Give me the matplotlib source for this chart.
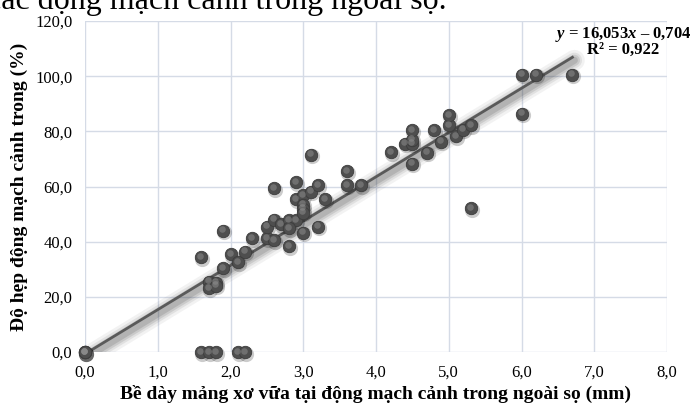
import numpy as np
import matplotlib
matplotlib.use("Agg")
import matplotlib.pyplot as plt
import matplotlib.transforms as mtransforms

plt.rcParams['font.family'] = ['Liberation Serif', 'DejaVu Serif']
plt.rcParams['mathtext.fontset'] = 'custom'
plt.rcParams['mathtext.rm'] = 'Liberation Serif:bold'
plt.rcParams['mathtext.it'] = 'Liberation Serif:italic:bold'

# plaque thickness (mm) vs stenosis (%)
thickness = [0, 0, 0, 0,
             1.6, 1.7, 1.8, 2.1, 2.2,
             1.6, 1.7, 1.8, 1.7, 1.8, 1.9, 1.9, 2.0, 2.1, 2.2, 2.3,
             2.5, 2.6, 2.5, 2.6, 2.7, 2.8, 2.9, 2.8, 2.8, 2.6, 2.9, 2.9,
             3.0, 3.1, 3.2, 3.0, 3.0, 3.0, 3.0, 3.2, 3.1, 3.3, 3.6, 3.6, 3.8,
             4.2, 4.4, 4.5, 4.5, 4.5, 4.5, 4.7, 4.8, 4.9, 5.0, 5.0, 5.1, 5.2,
             5.3, 5.3, 6.0, 6.2, 6.7, 6.0]
stenosis = [0, 0, 0, 0,
            0, 0, 0, 0, 0,
            34.3, 25.5, 25.1, 23.1, 24.0, 30.3, 44.0, 35.5, 32.5, 36.3, 41.2,
            41.2, 40.6, 45.4, 48.0, 46.4, 47.8, 47.8, 44.8, 38.4, 59.4, 61.5, 55.4,
            56.9, 58.1, 60.4, 53.3, 52.0, 50.4, 43.2, 45.4, 71.5, 55.4, 65.5, 60.4, 60.4,
            72.4, 75.5, 75.5, 77.0, 80.4, 68.2, 72.2, 80.4, 76.2, 82.2, 85.8, 78.3, 80.5,
            82.2, 52.2, 100.5, 100.5, 100.5, 86.3]

slope = 16.053
intercept = -0.704
r2_text = "R² = 0,922"
eq_text = "$y$ = 16,053$x$ – 0,704"

x_ticks = [0, 1, 2, 3, 4, 5, 6, 7, 8]
x_ticklabels = ['0,0', '1,0', '2,0', '3,0', '4,0', '5,0', '6,0', '7,0', '8,0']
y_ticks = [0, 20, 40, 60, 80, 100, 120]
y_ticklabels = ['0,0', '20,0', '40,0', '60,0', '80,0', '100,0', '120,0']

W, H = 692, 408
fig = plt.figure(figsize=(W / 100, H / 100), dpi=100)
ax = fig.add_axes([85 / W, (H - 352) / H, (667 - 85) / W, (352 - 21) / H])
ax.set_xlim(0, 8)
ax.set_ylim(0, 120)

ax.set_xticks(x_ticks)
ax.set_xticklabels(x_ticklabels)
ax.set_yticks(y_ticks)
ax.set_yticklabels(y_ticklabels)
ax.tick_params(length=0, labelsize=12, pad=9)
ax.grid(True, color='#d5dbe6', linewidth=1)
ax.set_axisbelow(True)
for s in ax.spines.values():
    s.set_visible(False)

# trendline with a soft shadow
xs = np.array([min(thickness), max(thickness)])
ys = slope * xs + intercept
for i, lw in enumerate([15, 11, 8, 5]):
    off = mtransforms.ScaledTranslation(2 / 100, -3 / 100, fig.dpi_scale_trans)
    ax.plot(xs, ys, color='#303030', lw=lw, alpha=0.06 + 0.03 * i,
            solid_capstyle='round', transform=ax.transData + off, zorder=2)
ax.plot(xs, ys, color='#5a5a5a', lw=2, zorder=3)

# spheres: shadow, body, highlight
shadow = mtransforms.ScaledTranslation(1 / 100, -1.5 / 100, fig.dpi_scale_trans)
ax.scatter(thickness, stenosis, s=120, color='black', alpha=0.2, lw=0,
           transform=ax.transData + shadow, zorder=4, clip_on=False)
ax.scatter(thickness, stenosis, s=80, color='#4e4e4e', edgecolor='#3c3c3c',
           lw=0.6, zorder=5, clip_on=False)
hl = mtransforms.ScaledTranslation(-1 / 100, 1.5 / 100, fig.dpi_scale_trans)
ax.scatter(thickness, stenosis, s=22, color='#8c8c8c', alpha=0.55, lw=0,
           transform=ax.transData + hl, zorder=6, clip_on=False)

ax.set_xlabel('Bề dày mảng xơ vữa tại động mạch cảnh trong ngoài sọ (mm)',
              fontsize=14, fontweight='bold', labelpad=3)
ax.set_ylabel('Độ hẹp động mạch cảnh trong (%)', fontsize=14,
              fontweight='bold', labelpad=5)

fig.text(623 / W, 1 - 34 / H, eq_text, ha='center', va='center',
         fontsize=12, fontweight='bold')
fig.text(623 / W, 1 - 50 / H, r2_text, ha='center', va='center',
         fontsize=12, fontweight='bold')

# caption cut off at the top of the picture
fig.text(447 / W, 1 - 9 / H, 'các động mạch cảnh trong ngoài sọ.',
         ha='right', va='baseline', fontsize=23)

fig.savefig('out.png', dpi=100)
